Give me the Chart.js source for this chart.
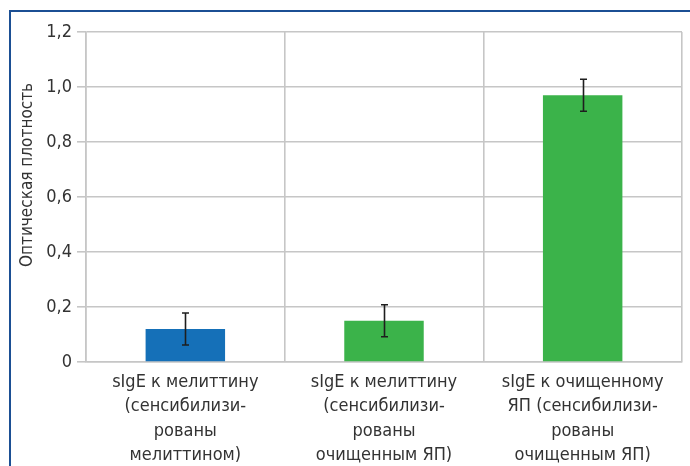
<!DOCTYPE html>
<html>
<head>
<meta charset="utf-8">
<script src="https://cdn.jsdelivr.net/npm/chart.js@4/dist/chart.umd.min.js"></script>
<style>
  html, body { margin: 0; padding: 0; background: #ffffff; }
  #wrap { width: 690px; height: 466px; }
</style>
</head>
<body>
<div id="wrap"><canvas id="chart" width="690" height="466"></canvas></div>
<script>
// Category labels (multi-line)
const categories = [
  ['sIgE к мелиттину', '(сенсибилизи-', 'рованы', 'мелиттином)'],
  ['sIgE к мелиттину', '(сенсибилизи-', 'рованы', 'очищенным ЯП)'],
  ['sIgE к очищенному', 'ЯП (сенсибилизи-', 'рованы', 'очищенным ЯП)']
];
// Mean optical density and its spread
const meanValues = [0.12, 0.15, 0.97];
const errorValues = [0.058, 0.058, 0.058];
const barColors = ['#1570b8', '#3bb34a', '#3bb34a'];
const yAxisTitle = 'Оптическая плотность';

const FONT = "'Liberation Sans Narrow', 'DejaVu Sans Condensed', 'Arial Narrow', 'Roboto', sans-serif";
const TEXT = '#333333';
const GRID = '#c6c6c6';

// Blue frame along the top and left edges
const framePlugin = {
  id: 'frame',
  beforeDraw(chart) {
    const ctx = chart.ctx;
    ctx.save();
    ctx.fillStyle = '#1b4f94';
    ctx.fillRect(9, 10, chart.width - 9, 2);
    ctx.fillRect(9, 10, 2, chart.height - 10);
    ctx.restore();
  }
};

// Error whiskers for each bar
const errorBarPlugin = {
  id: 'errorBars',
  afterDatasetsDraw(chart) {
    const ctx = chart.ctx;
    const y = chart.scales.y;
    const meta = chart.getDatasetMeta(0);
    ctx.save();
    ctx.strokeStyle = '#1e1e1e';
    ctx.lineWidth = 1.6;
    meta.data.forEach((bar, i) => {
      const x = Math.round(bar.x) + 0.5;
      const yTop = y.getPixelForValue(meanValues[i] + errorValues[i]);
      const yBot = y.getPixelForValue(meanValues[i] - errorValues[i]);
      const cap = 3.5;
      ctx.beginPath();
      ctx.moveTo(x, yTop); ctx.lineTo(x, yBot);
      ctx.moveTo(x - cap, yTop); ctx.lineTo(x + cap, yTop);
      ctx.moveTo(x - cap, yBot); ctx.lineTo(x + cap, yBot);
      ctx.stroke();
    });
    ctx.restore();
  }
};

// Rotated y-axis title
const yTitlePlugin = {
  id: 'yTitle',
  afterDraw(chart) {
    const ctx = chart.ctx;
    ctx.save();
    ctx.translate(28, 175);
    ctx.rotate(-Math.PI / 2);
    ctx.font = "17px " + FONT;
    ctx.fillStyle = TEXT;
    ctx.textAlign = 'center';
    ctx.textBaseline = 'middle';
    ctx.fillText(yAxisTitle, 0, 0);
    ctx.restore();
  }
};

new Chart(document.getElementById('chart'), {
  type: 'bar',
  data: {
    labels: categories,
    datasets: [{
      data: meanValues,
      backgroundColor: barColors,
      borderWidth: 0,
      categoryPercentage: 1.0,
      barPercentage: 0.4
    }]
  },
  options: {
    responsive: false,
    animation: false,
    devicePixelRatio: 1,
    layout: { padding: { left: 0, right: 8, top: 32, bottom: 0 } },
    plugins: { legend: { display: false }, tooltip: { enabled: false } },
    scales: {
      x: {
        grid: { color: GRID, lineWidth: 1.6, drawTicks: false, offset: true },
        border: { color: GRID, width: 1.6 },
        ticks: {
          color: TEXT,
          padding: 8,
          maxRotation: 0,
          autoSkip: false,
          font: { family: FONT, size: 18, lineHeight: 1.36 }
        },
        afterFit(scale) { scale.height = 104; }
      },
      y: {
        min: 0,
        max: 1.2,
        grid: { color: GRID, lineWidth: 1.6, tickLength: 9 },
        border: { color: GRID, width: 1.6 },
        ticks: {
          stepSize: 0.2,
          color: TEXT,
          padding: 5,
          font: { family: FONT, size: 18 },
          callback: (v) => v === 0 ? '0' : v.toFixed(1).replace('.', ',')
        },
        afterFit(scale) { scale.width = 86; }
      }
    }
  },
  plugins: [framePlugin, errorBarPlugin, yTitlePlugin]
});
</script>
</body>
</html>
